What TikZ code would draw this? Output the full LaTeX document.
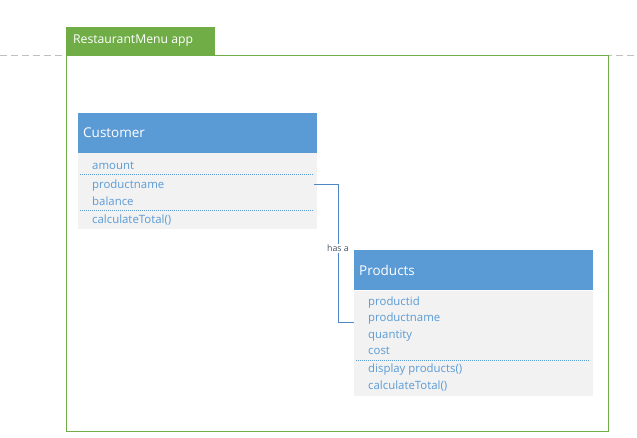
\documentclass[tikz,border=0pt]{standalone}
\usepackage{fontspec}
\setmainfont{Open Sans}
\definecolor{hdrblue}{HTML}{5B9BD5}
\definecolor{txtblue}{HTML}{5B9BD5}
\definecolor{bodygray}{HTML}{F2F2F2}
\definecolor{grn}{HTML}{70AD47}
\definecolor{dashgray}{HTML}{BFBFBF}
\definecolor{slate}{HTML}{44546A}
\definecolor{connblue}{HTML}{4F86C6}
\tikzset{
  hdr/.style={fill=hdrblue, draw=none, inner sep=0pt, minimum width=239pt, minimum height=40pt, anchor=north west},
  bodybox/.style={fill=bodygray, draw=none, inner sep=0pt, minimum width=239pt, anchor=north west},
  title/.style={anchor=west, inner sep=0pt, text=white, font=\fontsize{13.5}{15}\selectfont},
  attr/.style={anchor=west, inner sep=0pt, yshift=-1.2pt, text=txtblue, font=\fontsize{11.4}{13}\selectfont},
  sep/.style={draw=hdrblue, dash pattern=on 0.8pt off 1.2pt, line width=0.7pt},
  conn/.style={draw=connblue, line width=0.9pt},
}
\begin{document}
\begin{tikzpicture}[x=1pt,y=-1pt]
\useasboundingbox (0,0) rectangle (637,437);
% dashed swimlane line
\draw[dashgray, dash pattern=on 7pt off 4pt, line width=0.8pt] (0,55) -- (637,55);
% frame
\node[draw=grn, fill=white, line width=0.8pt, inner sep=0pt, minimum width=542pt, minimum height=376pt, anchor=north west] (frame) at (66,55) {};
\node[fill=grn, inner sep=0pt, minimum width=149pt, minimum height=28.5pt, anchor=south west] (tab) at (66,55.4) {};
\node[anchor=west, inner sep=0pt, text=white, font=\fontsize{12.2}{14}\selectfont] (tabtext) at (73,40.7) {RestaurantMenu app};

% Customer class
\node[hdr] (ch) at (78,113) {};
\node[bodybox, minimum height=76pt] (cb) at (78,153) {};
\node[title] (ct) at (83,133) {Customer};
\node[attr] (c1) at (92,165) {amount};
\node[attr] (c2) at (92,184) {productname};
\node[attr] (c3) at (92,200) {balance};
\node[attr] (c4) at (92,219) {calculateTotal()};
\draw[sep] (80,174.5) -- (314,174.5);
\draw[sep] (80,210.5) -- (314,210.5);

% Products class
\node[hdr] (ph) at (354,250) {};
\node[bodybox, minimum height=105pt] (pb) at (354,291) {};
\node[title] (pt) at (359,270) {Products};
\node[attr] (p1) at (368,301.5) {productid};
\node[attr] (p2) at (368,317.5) {productname};
\node[attr] (p3) at (368,334) {quantity};
\node[attr] (p4) at (368,350) {cost};
\node[attr] (p5) at (368,368.5) {display products()};
\node[attr] (p6) at (368,385) {calculateTotal()};
\draw[sep] (356,360.5) -- (590,360.5);

% connector
\coordinate (cs) at (314,184);
\coordinate (pe) at (354,322);
\node[fill=white, inner sep=1pt, text=slate, font=\fontsize{8.8}{10}\selectfont] (hasa) at (338,248.5) {has a};
\draw[conn] (cs) -| (hasa.north);
\draw[conn] (hasa.south) |- (pe);
\end{tikzpicture}
\end{document}
